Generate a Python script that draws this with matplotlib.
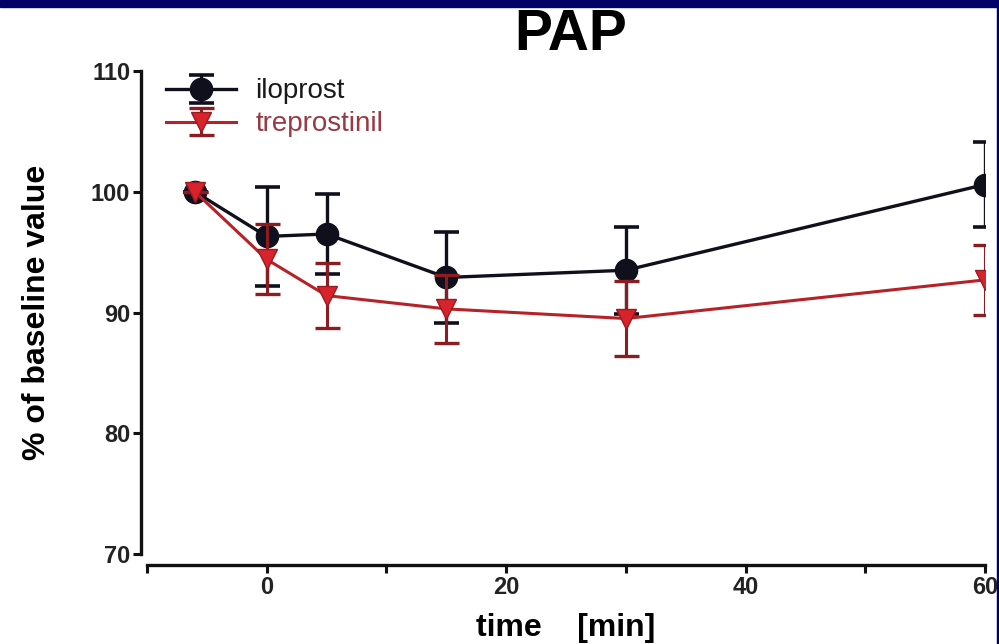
import matplotlib
matplotlib.use("Agg")
import matplotlib.pyplot as plt
from matplotlib.patches import Rectangle
from matplotlib.ticker import FixedLocator

# ---- data ----
time_min = [-6, 0, 5, 15, 30, 60]
iloprost_mean = [100.0, 96.3, 96.5, 92.9, 93.5, 100.6]
iloprost_sd = [0.0, 4.1, 3.3, 3.8, 3.6, 3.5]
trep_mean = [100.0, 94.4, 91.4, 90.3, 89.5, 92.7]
trep_sd = [0.0, 2.9, 2.7, 2.8, 3.1, 2.9]
series_names = ["iloprost", "treprostinil"]
x_major = [0, 20, 40, 60]
x_minor = [-10, 10, 30, 50]
y_ticks = [70, 80, 90, 100, 110]

plt.rcParams['font.family'] = ['Liberation Sans', 'DejaVu Sans']

W, H = 999, 644
fig = plt.figure(figsize=(W / 100, H / 100), dpi=100)
fig.patch.set_facecolor('white')

# navy frame bands
fig.patches.append(Rectangle((0, 1 - 7 / H), 1, 7 / H, transform=fig.transFigure,
                             color='#000066', zorder=0))
fig.patches.append(Rectangle((1 - 2 / W, 0), 2 / W, 1, transform=fig.transFigure,
                             color='#000066', zorder=0))

ax = fig.add_axes([147 / W, (H - 554) / H, (985 - 147) / W, (554 - 71) / H])
ax.set_xlim(-10, 60)
ax.set_ylim(70, 110)

black = '#10101c'
red_line = '#b52328'
red_mk = '#d8232c'

e1 = ax.errorbar(time_min, iloprost_mean, yerr=iloprost_sd, color=black, lw=2.4,
                 marker='o', ms=16, mfc=black, mec=black, ecolor=black,
                 elinewidth=2.4, capsize=9, capthick=2.6, zorder=3,
                 label=series_names[0])
e2 = ax.errorbar(time_min, trep_mean, yerr=trep_sd, color=red_line, lw=2.2,
                 marker='v', ms=14, mfc=red_mk, mec='#9a1a20', ecolor='#8a1c22',
                 elinewidth=2.2, capsize=9, capthick=2.4, zorder=4,
                 label=series_names[1])

for s in ['top', 'right']:
    ax.spines[s].set_visible(False)
ax.spines['left'].set_position(('outward', 4))
ax.spines['bottom'].set_position(('outward', 8))
for s in ['left', 'bottom']:
    ax.spines[s].set_linewidth(2.4)
    ax.spines[s].set_color('#111111')

ax.set_yticks(y_ticks)
ax.xaxis.set_major_locator(FixedLocator(x_major))
ax.xaxis.set_minor_locator(FixedLocator(x_minor))
ax.tick_params(axis='both', which='major', direction='out', length=6, width=2.2,
               color='#111111', labelsize=17, pad=2)
ax.tick_params(axis='x', which='minor', direction='out', length=6, width=2.2,
               color='#111111')
for lab in ax.get_xticklabels() + ax.get_yticklabels():
    lab.set_fontweight('bold')
    lab.set_color('#222222')

ax.set_ylabel('% of baseline value', fontsize=23, fontweight='bold', labelpad=28)
ax.set_xlabel('time    [min]', fontsize=23, fontweight='bold', labelpad=10)
fig.text(0.571, 1 - 50 / H, 'PAP', fontsize=41, fontweight='bold',
         ha='center', va='baseline')

leg = ax.legend(handles=[e1, e2], loc='upper left', bbox_to_anchor=(0.0, 1.025),
                frameon=False, fontsize=20, handlelength=2.5, handletextpad=0.7,
                labelspacing=0.25, borderaxespad=0.3)
leg.get_texts()[1].set_color('#983a44')
leg.get_texts()[0].set_color('#1a1a1a')

fig.savefig('out.png', dpi=100, facecolor='white')
